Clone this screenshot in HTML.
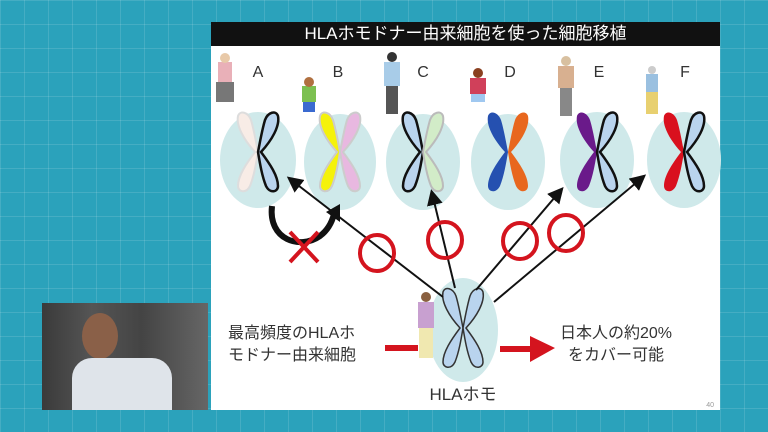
<!DOCTYPE html><html><head><meta charset="utf-8"><style>
body{margin:0;width:768px;height:432px;overflow:hidden;background:#2a9fb8;font-family:"Liberation Sans","Noto Sans CJK JP",sans-serif;}
.bg{position:absolute;inset:0;background-color:#2ba2bb;background-image:linear-gradient(rgba(255,255,255,.12) 1px,transparent 1px),linear-gradient(90deg,rgba(255,255,255,.12) 1px,transparent 1px);background-size:24px 24px;}
.slide{position:absolute;left:211px;top:22px;width:509px;height:388px;background:#fff;}
.title{position:absolute;left:211px;top:22px;width:509px;height:24px;background:#111;color:#fff;font-size:17px;line-height:24px;text-align:center;}
.t{position:absolute;color:#333;font-size:16px;line-height:22px;white-space:nowrap;}
.video{position:absolute;left:42px;top:303px;width:166px;height:107px;background:linear-gradient(90deg,#3a3a3a,#555 30%,#444 60%,#666);overflow:hidden;}
</style></head><body>
<div class="bg"></div>
<div class="slide"></div>
<div class="title">HLAホモドナー由来細胞を使った細胞移植</div>
<svg style="position:absolute;left:0;top:0" width="768" height="432">
<defs><marker id="ah" markerWidth="8" markerHeight="8" refX="6" refY="4" orient="auto"><path d="M0,0L8,4L0,8z" fill="#111"/></marker>
<path id="L" d="M-3,0C-14,-12,-22,-26,-20,-36C-18,-42,-10,-40,-7,-32C-4,-22,-2,-10,0,0C-2,12,-4,24,-8,34C-12,42,-20,40,-20,34C-20,24,-12,12,-3,0z"/>
<path id="R" d="M3,0C14,-12,22,-26,20,-36C18,-42,10,-40,7,-32C4,-22,2,-10,0,0C2,12,4,24,8,34C12,42,20,40,20,34C20,24,12,12,3,0z"/>
</defs>
<g fill="#cfe9ea">
<ellipse cx="258" cy="160" rx="38" ry="48"/><ellipse cx="340" cy="162" rx="36" ry="48"/><ellipse cx="423" cy="162" rx="37" ry="48"/><ellipse cx="508" cy="162" rx="37" ry="48"/><ellipse cx="597" cy="160" rx="37" ry="48"/><ellipse cx="684" cy="160" rx="37" ry="48"/><ellipse cx="463" cy="330" rx="35" ry="52"/>
</g>
<g font-size="16" fill="#333" text-anchor="middle" font-family="Liberation Sans">
<text x="258" y="77">A</text><text x="338" y="77">B</text><text x="423" y="77">C</text><text x="510" y="77">D</text><text x="599" y="77">E</text><text x="685" y="77">F</text>
</g>
<g stroke-width="2">
<g transform="translate(258,152)"><use href="#L" fill="#f8ece6" stroke="#ddd"/><use href="#R" fill="#b9d4ee" stroke="#111" stroke-width="2.5"/></g>
<g transform="translate(340,152)"><use href="#L" fill="#f5f20a" stroke="#ccc"/><use href="#R" fill="#e8b8e0" stroke="#ccc"/></g>
<g transform="translate(423,152)"><use href="#L" fill="#b9d4ee" stroke="#111" stroke-width="2.5"/><use href="#R" fill="#d2ecc8" stroke="#bbb"/></g>
<g transform="translate(508,152)"><use href="#L" fill="#2550b0"/><use href="#R" fill="#e8671e"/></g>
<g transform="translate(597,152)"><use href="#L" fill="#6a1a8a"/><use href="#R" fill="#b9d4ee" stroke="#111" stroke-width="2.5"/></g>
<g transform="translate(684,152)"><use href="#L" fill="#d9101e"/><use href="#R" fill="#b9d4ee" stroke="#111" stroke-width="2.5"/></g>
<g transform="translate(463,328)"><use href="#L" fill="#b9d4ee" stroke="#333" stroke-width="1.5"/><use href="#R" fill="#b9d4ee" stroke="#333" stroke-width="1.5"/></g>
</g>
<g>
<rect x="218" y="62" width="14" height="20" fill="#e9b0b8"/><rect x="216" y="82" width="18" height="20" fill="#777"/><circle cx="225" cy="58" r="5" fill="#e8c9a8"/>
<rect x="302" y="86" width="14" height="16" fill="#7cc050"/><rect x="303" y="102" width="12" height="10" fill="#3a6ad0"/><circle cx="309" cy="82" r="5" fill="#b07040"/>
<rect x="384" y="62" width="16" height="24" fill="#a8cce8"/><rect x="386" y="86" width="12" height="28" fill="#555"/><circle cx="392" cy="57" r="5" fill="#333"/>
<rect x="470" y="78" width="16" height="16" fill="#d0405a"/><rect x="471" y="94" width="14" height="8" fill="#a0c8f0"/><circle cx="478" cy="73" r="5" fill="#8a4020"/>
<rect x="558" y="66" width="16" height="22" fill="#d8b090"/><rect x="560" y="88" width="12" height="28" fill="#888"/><circle cx="566" cy="61" r="5" fill="#d8c0a0"/>
<rect x="646" y="74" width="12" height="18" fill="#9ac0e0"/><rect x="646" y="92" width="12" height="22" fill="#e8d070"/><circle cx="652" cy="70" r="4" fill="#ccc"/>
<rect x="418" y="302" width="16" height="26" fill="#c8a0d0"/><rect x="419" y="328" width="14" height="30" fill="#f0e8b0"/><circle cx="426" cy="297" r="5" fill="#8a6040"/>
</g>
<g stroke="#111" stroke-width="2" marker-end="url(#ah)">
<line x1="443" y1="297" x2="290" y2="179"/>
<line x1="455" y1="288" x2="432" y2="193"/>
<line x1="476" y1="290" x2="561" y2="190"/>
<line x1="494" y1="302" x2="643" y2="177"/>
</g>
<path d="M272,206C268,240,300,250,320,236C328,230,332,222,334,214" fill="none" stroke="#111" stroke-width="6"/>
<path d="M326,212L340,204L340,222z" fill="#111"/>
<g stroke="#d4141e" stroke-width="4" fill="none">
<line x1="290" y1="232" x2="318" y2="262"/><line x1="318" y1="232" x2="290" y2="262"/>
<ellipse cx="377" cy="253" rx="17" ry="18"/><ellipse cx="445" cy="240" rx="17" ry="18"/><ellipse cx="520" cy="241" rx="17" ry="18"/><ellipse cx="566" cy="233" rx="17" ry="18"/>
</g>
<path d="M385,348L418,348" stroke="#d4141e" stroke-width="6"/>
<path d="M500,346L530,346L530,336L555,348L530,362L530,352L500,352z" fill="#d4141e"/>
<text x="463" y="400" font-size="17" fill="#333" text-anchor="middle" font-family="Liberation Sans,Noto Sans CJK JP,sans-serif">HLAホモ</text>
<text x="714" y="407" font-size="7" fill="#999" text-anchor="end">40</text>
</svg>
<div class="t" style="left:228px;top:323px;">最高頻度のHLAホ<br>モドナー由来細胞</div>
<div class="t" style="left:555px;top:323px;width:122px;text-align:center;">日本人の約20%<br>をカバー可能</div>
<div class="video"><div style="position:absolute;left:40px;top:10px;width:36px;height:46px;border-radius:50%;background:#8a6048"></div><div style="position:absolute;left:30px;top:55px;width:100px;height:52px;background:#dfe4ea;border-radius:20px 20px 0 0"></div></div>
</body></html>
